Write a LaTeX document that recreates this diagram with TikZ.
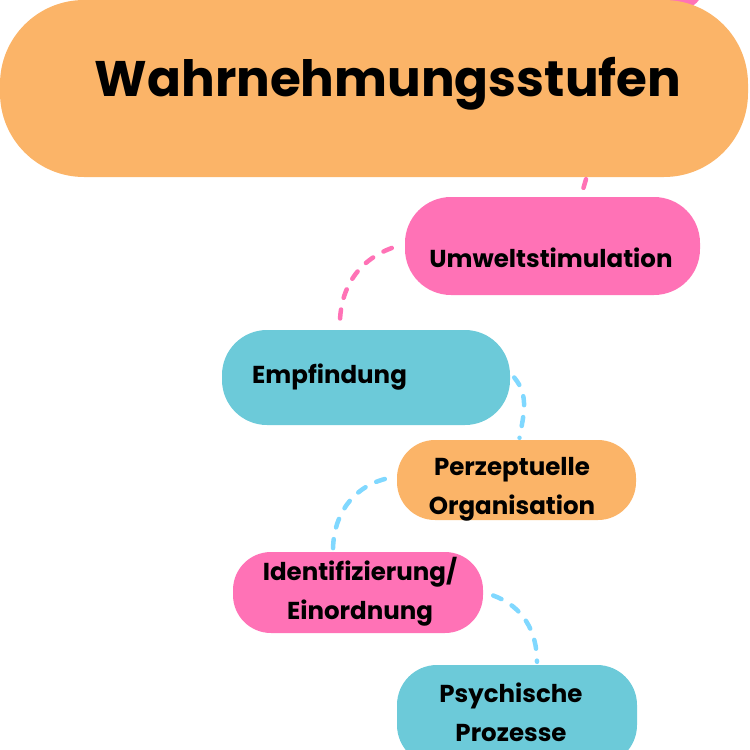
\documentclass[tikz,border=0pt]{standalone}
\usepackage{fontspec}
\setmainfont{Poppins}[BoldFont={Poppins Bold}]
\definecolor{orng}{HTML}{FBB468}
\definecolor{pnk}{HTML}{FF72B6}
\definecolor{blu}{HTML}{6CCAD9}
\definecolor{lblu}{HTML}{80D8FF}
\tikzset{
  blob/.style={rectangle, inner sep=0pt, draw=none},
  lbl/.style={inner sep=0pt, align=center, font=\bfseries\fontsize{24.5}{39}\selectfont},
  conn/.style={line width=4.5pt, line cap=round, dash pattern=on 9pt off 12pt},
}
\begin{document}
\begin{tikzpicture}[x=1pt,y=-1pt]
\useasboundingbox (0,0) rectangle (750,750);
% pink shape behind title (top right)
\fill[pnk, rounded corners=25pt] (520,-120) rectangle (704,10);
% boxes
\node[blob, fill=orng, minimum width=748pt, minimum height=177pt, rounded corners=84pt] (title) at (374,88.5) {};
\node[blob, fill=pnk, minimum width=295pt, minimum height=98pt, rounded corners=46pt] (umw) at (552.5,246) {};
\node[blob, fill=blu, minimum width=288pt, minimum height=95pt, rounded corners=45pt] (emp) at (366,377.5) {};
\node[blob, fill=orng, minimum width=239pt, minimum height=80pt, rounded corners=38pt] (perz) at (516.5,480) {};
\node[blob, fill=pnk, minimum width=250pt, minimum height=81pt, rounded corners=38pt] (iden) at (358,592.5) {};
\node[blob, fill=blu, minimum width=240pt, minimum height=100pt, rounded corners=40pt] (psy) at (517,715) {};
% texts
\node[inner sep=0pt, font=\bfseries\fontsize{50}{60}\selectfont] (titlet) at (388,84) {Wahrnehmungsstufen};
\node[lbl] (umwt) at (551,258) {Umweltstimulation};
\node[lbl, anchor=west] (empt) at (252,377) {Empfindung};
\node[lbl] (perzt) at (512,489) {Perzeptuelle\\Organisation};
\node[lbl] (ident) at (360,592) {Identifizierung/\\Einordnung};
\node[lbl] (psyt) at (511,712) {Psychische\\Prozesse};
% connectors
\draw[conn, pnk] ([xshift=212pt,yshift=-2pt]title.south) -- ([xshift=27.5pt,yshift=-3pt]umw.north);
\draw[conn, pnk] ([xshift=-13pt,yshift=-2pt]umw.west) to[out=200,in=92] ([xshift=-26pt,yshift=2pt]emp.north);
\draw[conn, lblu] ([xshift=4pt]emp.east) to[out=-50,in=80] ([xshift=3pt,yshift=2pt]perz.north);
\draw[conn, lblu] ([xshift=-12pt,yshift=1pt]perz.west) to[out=195,in=90] ([xshift=-25pt,yshift=1pt]iden.north);
\draw[conn, lblu] ([xshift=10pt,yshift=-3pt]iden.east) to[out=-20,in=90] ([xshift=20pt,yshift=3pt]psy.north);
\end{tikzpicture}
\end{document}
